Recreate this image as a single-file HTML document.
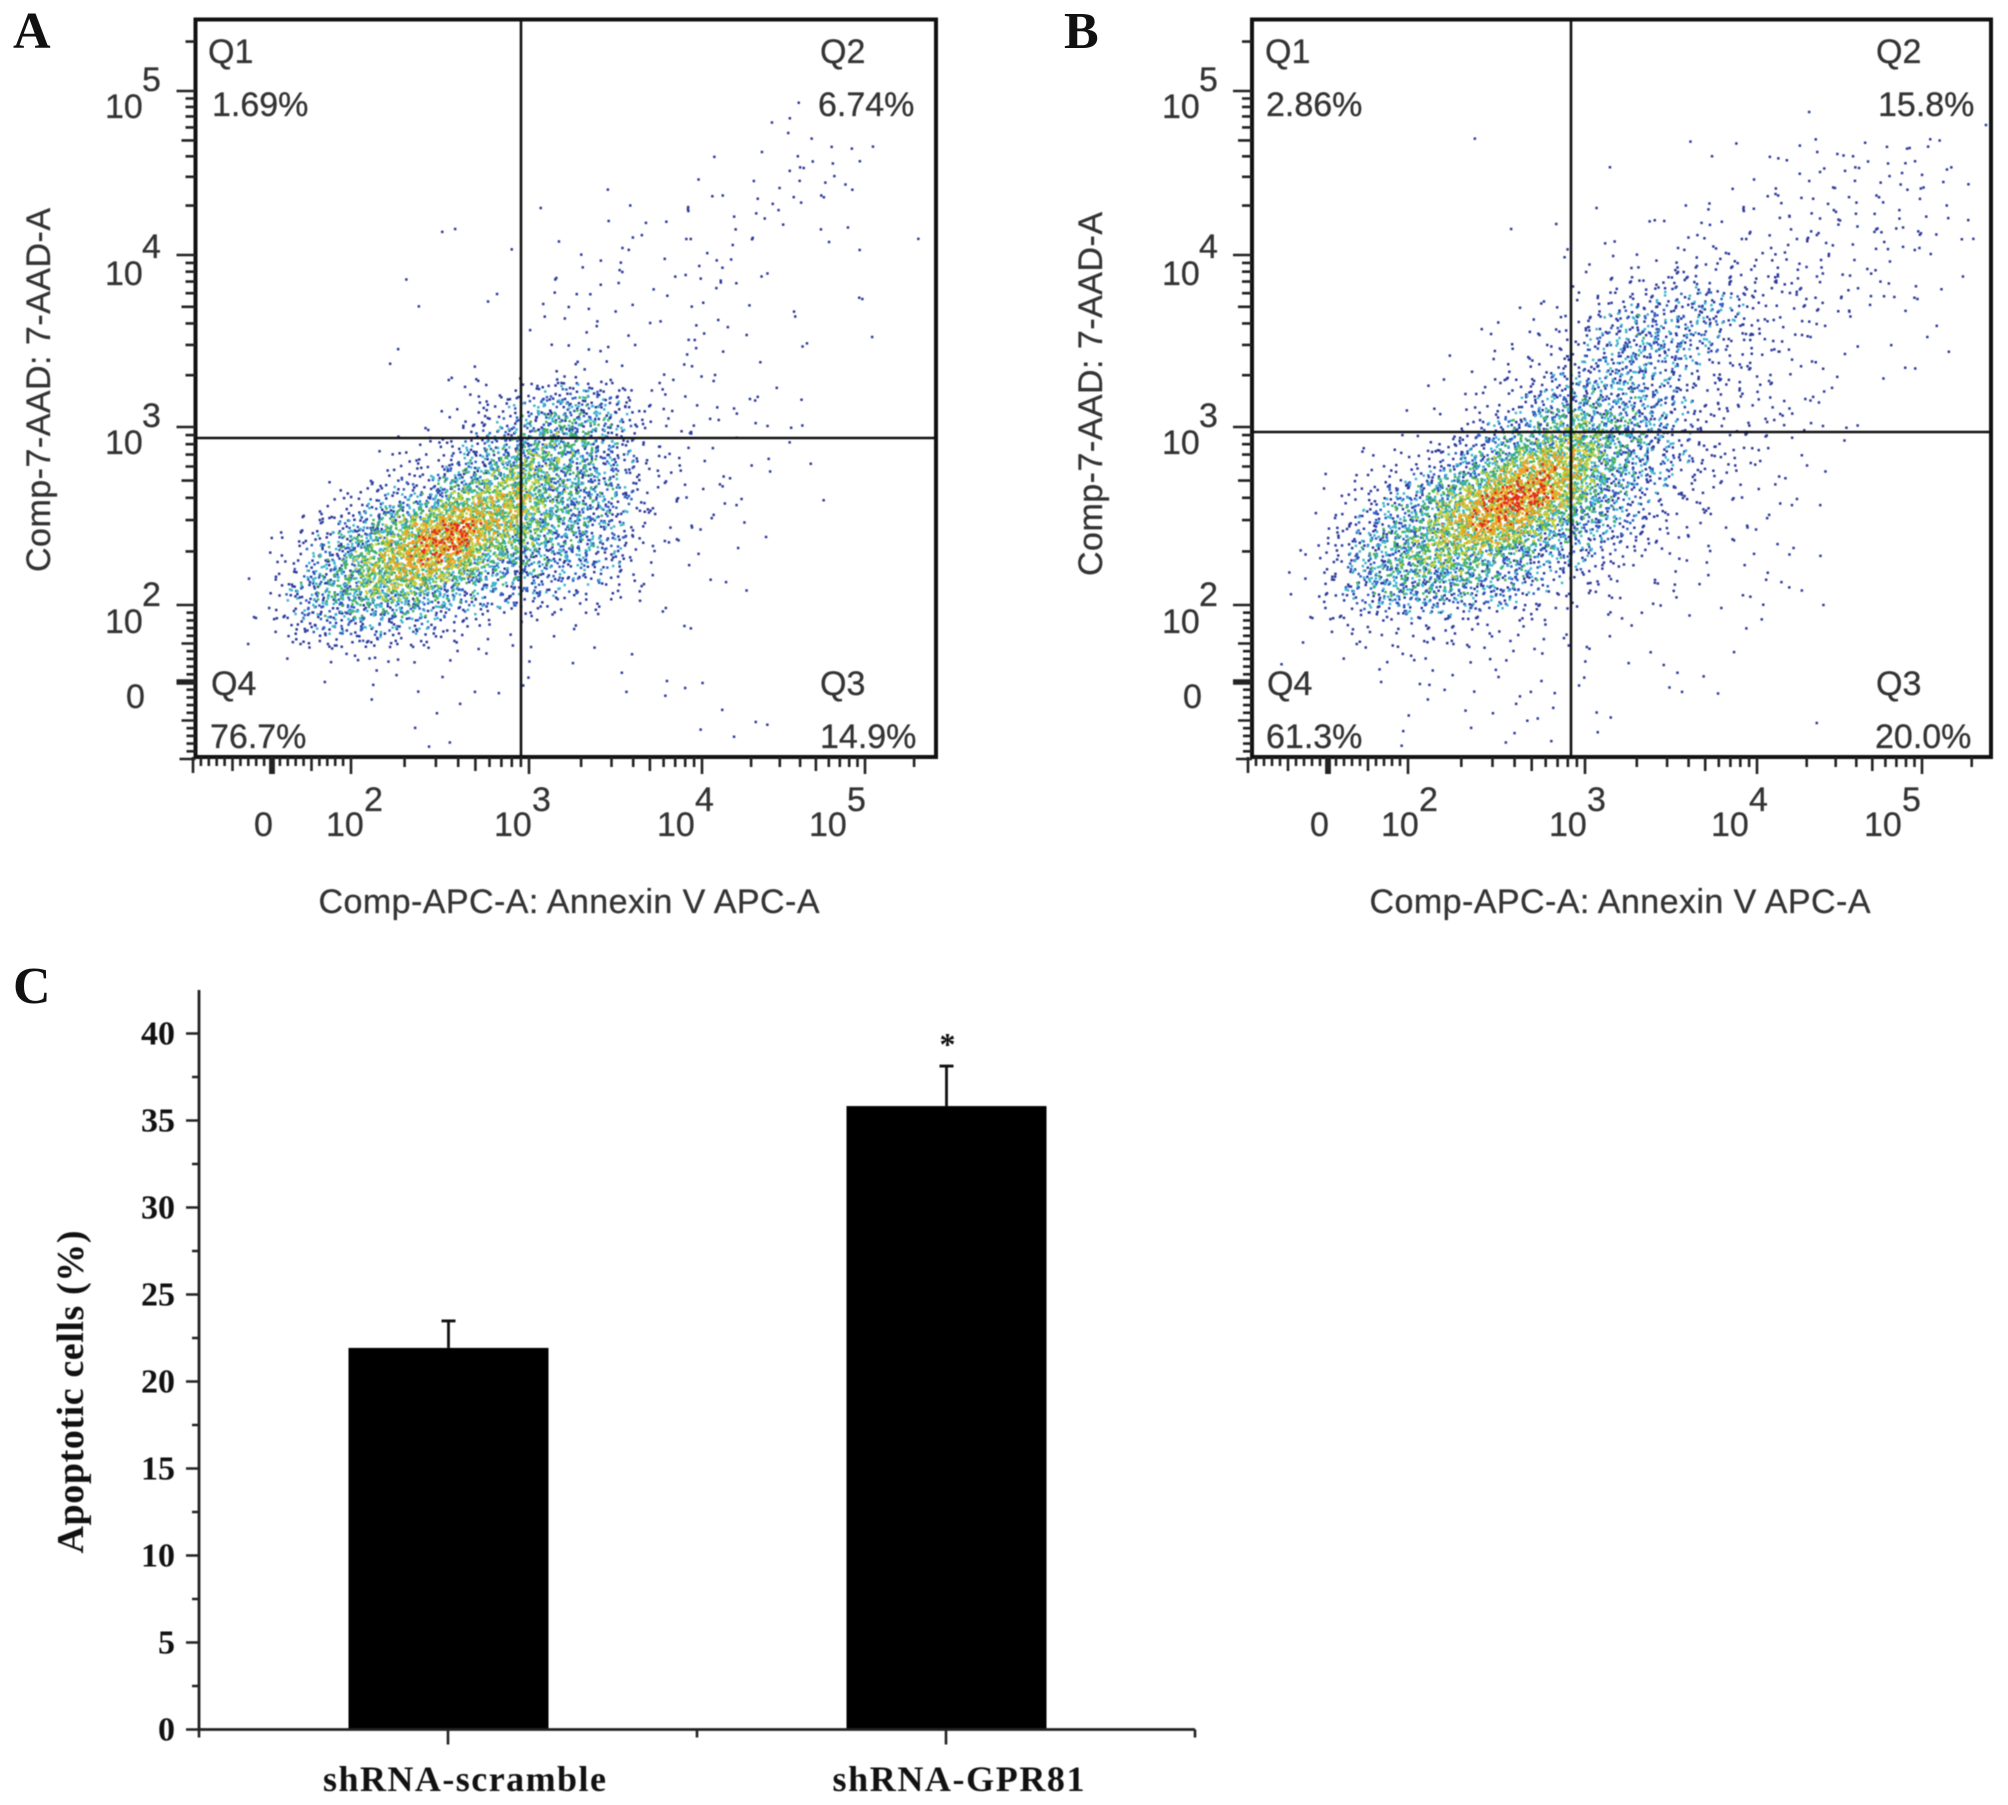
<!DOCTYPE html>
<html lang="en">
<head>
<meta charset="utf-8">
<title>Flow cytometry apoptosis figure</title>
<style>
html,body{margin:0;padding:0;background:#fff;}
body{width:2008px;height:1805px;overflow:hidden;}
svg{display:block;}
.flow{font-family:"Liberation Sans",sans-serif;fill:#333;}
.flow text{stroke:#333;stroke-width:.3px;}
.serif{font-family:"Liberation Serif",serif;font-weight:700;fill:#111;}
.soft{filter:blur(0.6px);}
</style>
</head>
<body>
<svg id="figure" width="2008" height="1805" viewBox="0 0 2008 1805" xmlns="http://www.w3.org/2000/svg">
  <rect width="2008" height="1805" fill="#fff"/>
  <defs>
    <clipPath id="clip-a"><rect x="197" y="21" width="737" height="734"/></clipPath>
    <clipPath id="clip-b"><rect x="1254" y="21" width="735" height="734"/></clipPath>
  </defs>
  <g id="panel-a" class="flow soft"></g>
  <g id="panel-b" class="flow soft"></g>
  <g id="panel-c" class="serif soft"></g>
  <text class="serif" x="13" y="48" font-size="52">A</text>
  <text class="serif" x="1064" y="48" font-size="52">B</text>
  <text class="serif" x="13" y="1003" font-size="52">C</text>
</svg>
<script>
// ---- Panel A: estimated event counts per grid cell, read by eye (rows top to bottom, columns left to right)
const densityA = [
[0,0,0,0,0,0, 0,0,0,0,0,0, 0,0,0,0,0,0, 0,0,0,0,0,0],
[0,0,0,0,0,0, 0,0,0,0,0,0, 0,0,0,0,0,0, 0,0,0,0,0,0],
[0,0,0,0,0,0, 0,0,0,0,0,0, 0,0,0,0,0,0, 0,1,0,0,0,0],
[0,0,0,0,0,0, 0,0,0,0,0,0, 0,0,0,0,0,0, 1,2,1,0,0,0],
[0,0,0,0,0,0, 0,0,0,0,0,0, 0,0,0,0,1,0, 1,2,4,3,0,0],
[0,0,0,0,0,0, 0,0,0,0,0,0, 0,1,0,0,1,2, 2,6,5,0,0,0],
[0,0,0,0,0,0, 0,1,0,0,0,1, 0,2,2,3,3,2, 2,1,3,0,0,1],
[0,0,0,0,0,0, 0,0,1,1,0,1, 2,3,2,2,3,3, 3,0,0,1,0,0],
[0,0,0,0,0,0, 1,0,0,1,0,2, 2,3,2,2,3,3, 1,0,0,1,0,0],
[0,0,0,0,0,0, 0,1,0,1,0,3, 3,2,1,2,4,3, 1,1,0,1,0,0],
[0,0,0,0,0,0, 2,0,0,0,0,2, 3,4,2,2,2,1, 0,1,0,0,1,0],
[0,0,0,0,0,0, 0,0,1,2,1,4, 5,2,2,3,4,2, 1,1,0,0,0,0],
[0,0,0,0,0,0, 0,0,6,12,18,36, 45,24,6,6,3,2, 2,1,1,0,0,0],
[0,0,0,0,0,0, 0,4,12,22,40,70, 60,30,9,7,3,3, 1,2,0,0,0,0],
[0,0,0,0,0,0, 8,14,25,50,85,75, 50,30,10,6,2,2, 2,0,1,0,0,0],
[0,0,0,0,3,12, 24,40,85,115,115,70, 55,30,10,7,3,3, 0,0,1,0,0,0],
[0,0,0,8,22,45, 90,135,170,125,100,60, 45,25,8,4,3,2, 2,0,0,0,0,0],
[0,0,2,18,42,90, 130,150,135,70,60,35, 35,20,6,2,2,0, 0,0,0,0,0,0],
[0,0,8,32,60,85, 100,75,45,30,28,20, 18,10,4,1,1,0, 1,0,0,0,0,0],
[0,0,5,20,36,36, 28,24,16,8,6,4, 2,1,0,2,0,0, 0,0,0,0,0,0],
[0,0,2,4,7,7, 7,4,3,1,2,0, 2,0,1,1,0,0, 0,0,0,0,0,0],
[0,0,0,0,1,2, 1,2,0,1,1,1, 0,1,1,2,1,0, 0,0,0,0,0,0],
[0,0,0,0,0,0, 0,2,1,1,0,0, 0,0,0,0,3,0, 1,0,0,0,0,0],
[0,0,0,0,0,0, 0,1,1,0,0,0, 0,0,0,1,0,2, 0,0,0,0,0,0]
];
// ---- Panel B: estimated event counts per grid cell, read by eye
const densityB = [
[0,0,0,0,0,0, 0,0,0,0,0,0, 0,0,0,0,0,0, 0,0,0,0,0,0],
[0,0,0,0,0,0, 0,0,0,0,0,0, 0,0,0,0,0,0, 0,0,0,0,0,0],
[0,0,0,0,0,0, 0,0,0,0,0,0, 0,0,0,0,0,0, 1,0,0,0,0,0],
[0,0,0,0,0,0, 0,1,0,0,0,0, 0,0,0,0,0,0, 0,0,0,1,0,1],
[0,0,0,0,0,0, 0,0,0,0,0,1, 0,0,2,1,1,3, 4,4,5,4,3,0],
[0,0,0,0,0,0, 0,0,0,0,0,0, 0,0,0,2,3,4, 4,6,5,5,3,0],
[0,0,0,0,0,0, 0,0,0,1,0,1, 0,3,4,3,3,6, 7,6,6,5,4,2],
[0,0,0,0,0,0, 0,0,1,1,0,3, 2,5,6,7,6,7, 6,5,4,3,2,0],
[0,0,0,0,0,0, 0,0,0,0,3,5, 8,14,18,16,13,12, 9,5,4,2,2,0],
[0,0,0,0,0,0, 0,0,2,3,8,16, 24,22,26,20,12,8, 8,4,2,1,0,0],
[0,0,0,0,0,0, 0,2,4,8,14,26, 36,30,22,14,10,6, 4,0,1,2,2,0],
[0,0,0,0,0,0, 1,3,8,14,22,30, 30,20,14,10,10,5, 3,1,1,1,0,0],
[0,0,0,0,0,2, 4,6,16,30,48,42, 35,22,14,11,8,5, 3,1,0,0,0,0],
[0,0,0,0,0,3, 8,20,40,70,100,65, 50,22,16,12,8,4, 3,1,0,0,0,0],
[0,0,0,3,6,14, 28,60,110,140,120,65, 35,20,14,8,4,2, 1,0,0,0,0,0],
[0,0,3,12,22,50, 90,140,170,150,90,50, 22,14,10,6,3,2, 1,0,0,0,0,0],
[0,0,6,20,45,75, 120,150,125,80,45,32, 16,10,5,3,4,2, 0,0,0,0,0,0],
[0,1,10,32,60,80, 90,70,50,32,22,14, 8,5,4,2,2,1, 1,0,0,0,0,0],
[0,2,14,28,45,50, 50,35,25,18,10,6, 2,3,2,2,2,2, 2,0,0,0,0,0],
[0,0,6,10,14,16, 14,9,8,5,2,2, 3,2,1,0,2,0, 0,0,0,0,0,0],
[0,2,1,2,4,5, 4,4,3,2,2,1, 1,2,0,1,1,0, 0,0,0,0,0,0],
[0,0,0,0,2,3, 2,3,3,1,1,1, 0,2,2,0,0,0, 0,0,0,0,0,0],
[0,0,0,0,1,0, 1,2,3,2,0,1, 0,0,0,1,0,1, 0,0,0,0,0,0],
[0,0,0,0,2,0, 2,0,2,2,0,2, 0,0,0,0,0,0, 0,0,0,0,0,0]
];
// ---- Flow axis data
const flowDecades = [2, 3, 4, 5];
const flowAxisValues = [0, 100, 1000, 10000, 100000];
const flowLinearTicks = [-90,-80,-70,-60,-50,-40,-30,-20,-10,10,20,30,40,50,60,70,80,90];
const flowLogMultiples = [2,3,4,5,6,7,8,9];
const quadrantNames = ['Q1','Q2','Q3','Q4'];
const quadrantValuesA = ['1.69%','6.74%','14.9%','76.7%'];
const quadrantValuesB = ['2.86%','15.8%','20.0%','61.3%'];
// ---- Panel C data
const barCategories = ['shRNA-scramble','shRNA-GPR81'];
const barValues = [21.93, 35.83];
const barErrors = [1.55, 2.3];
const barSignificance = ['', '*'];
const barTickValues = [0,5,10,15,20,25,30,35,40];
const barMinorTickValues = [2.5,7.5,12.5,17.5,22.5,27.5,32.5,37.5];

const NS = 'http://www.w3.org/2000/svg';
function mk(tag, attrs, parent){
  const n = document.createElementNS(NS, tag);
  for (const k in attrs) n.setAttribute(k, attrs[k]);
  parent.appendChild(n);
  return n;
}
function label(parent, txt, x, y, size, name){
  const t = mk('text', {x:x, y:y, 'font-size':size}, parent);
  t.textContent = txt;
  
  
  return t;
}
// radical-inverse sequence used only to spread a cell's count of dots inside the cell
function vdc(n, base){
  let v = 0, f = 1 / base;
  while (n > 0){ v += (n % base) * f; n = Math.floor(n / base); f /= base; }
  return v;
}

// Piecewise biexponential scale: linear from 0 to 100, log above, linear below 0.
function flowScale(anchors){
  return function(v){
    if (v <= 100) return anchors[0] + (anchors[1] - anchors[0]) * v / 100;
    const d = Math.log10(v) - 2;
    const i = Math.min(Math.floor(d), anchors.length - 3);
    return anchors[i + 1] + (anchors[i + 2] - anchors[i + 1]) * (d - i);
  };
}
const dotPalette = ['#2c3a9c','#2f5fc4','#3fb6cf','#46b35f','#c6cf3a','#f0a024','#e52c1c'];
const dotPaletteNames = ['navy','blue','cyan','green','yellow','orange','red'];

function drawFlow(cfg){
  const g = document.getElementById(cfg.id);
  const X = flowScale(cfg.xAnchors), Y = flowScale(cfg.yAnchors);
  const f = cfg.frame;
  // density dots
  const rows = cfg.density.length, cols = cfg.density[0].length;
  const cw = (f.r - f.l) / cols, ch = (f.b - f.t) / rows;
  const dotGroup = mk('g', {'clip-path':'url(#' + cfg.clip + ')'}, g);
  
  
  const paths = dotPalette.map(function(){ return []; });
  function densityAt(cx, cy){
    const x0 = Math.max(0, Math.min(cols - 1, Math.floor(cx - .5))), y0 = Math.max(0, Math.min(rows - 1, Math.floor(cy - .5)));
    const x1 = Math.min(cols - 1, x0 + 1), y1 = Math.min(rows - 1, y0 + 1);
    const tx = Math.max(0, Math.min(1, cx - .5 - x0)), ty = Math.max(0, Math.min(1, cy - .5 - y0));
    const d = cfg.density;
    return (d[y0][x0]*(1-tx)+d[y0][x1]*tx)*(1-ty) + (d[y1][x0]*(1-tx)+d[y1][x1]*tx)*ty;
  }
  const scale = cfg.countScale;
  cfg.density.forEach(function(row, r){
    row.forEach(function(count, c){
      const n = count >= 20 ? Math.round(count * scale) : count;
      const o = 1 + (r * 131 + c * 47) % 211, p = 1 + (r * 59 + c * 163) % 307;
      for (let k = 0; k < n; k++){
        // sub-cell placement: spread over neighbouring cells so grid edges do not show
        const cx = c + vdc(k + o, 2) + vdc(k + p, 5) - .5;
        const cy = r + vdc(k + p, 3) + vdc(k + o, 7) - .5;
        const dens = densityAt(cx, cy);
        const lvl = dens / 34 + (vdc(k + o + p, 11) - .5) * 3.6;
        const idx = dens < 16 ? 0 : Math.max(0, Math.min(6, Math.round(lvl)));
        const px = f.l + cx * cw, py = f.t + cy * ch;
        paths[idx].push('M' + px.toFixed(1) + ' ' + py.toFixed(1) + 'h2.5v2.5h-2.5z');
      }
    });
  });
  paths.forEach(function(list, i){
    if (!list.length) return;
    const p = mk('path', {d:list.join(''), fill:dotPalette[i]}, dotGroup);
    
    
  });
  // frame
  const frame = mk('rect', {x:f.l, y:f.t, width:f.r-f.l, height:f.b-f.t, fill:'none', stroke:'#111', 'stroke-width':4}, g);
  
  
  // gates
  const gv = mk('line', {x1:cfg.gateX, x2:cfg.gateX, y1:f.t, y2:f.b, stroke:'#111', 'stroke-width':2.6}, g);
  
  
  const gh = mk('line', {x1:f.l, x2:f.r, y1:cfg.gateY, y2:cfg.gateY, stroke:'#111', 'stroke-width':2.6}, g);
  
  
  // ticks
  const tx = [], ty = [];
  function addX(v, len){ const p = X(v); if (p <= f.r) tx.push('M' + p.toFixed(1) + ' ' + f.b + 'v' + len); }
  function addY(v, len){ const p = Y(v); if (p >= f.t) ty.push('M' + f.l + ' ' + p.toFixed(1) + 'h-' + len); }
  flowLinearTicks.forEach(function(v){ const len = v % 50 === 0 ? 14 : 9; addX(v, len); addY(v, len); });
  addX(-100, 16);
  addY(-100, 16);
  [-2,0,2].forEach(function(v){ addX(v, 17); addY(v, 19); });
  flowDecades.forEach(function(d){
    addX(Math.pow(10, d), 17);
    addY(Math.pow(10, d), 19);
    flowLogMultiples.forEach(function(m){
      const v = m * Math.pow(10, d), len = m === 5 ? 14 : 10;
      addX(v, len);
      addY(v, len);
    });
  });
  const xt = mk('path', {d:tx.join(''), stroke:'#222', 'stroke-width':2.6, fill:'none'}, g);
  
  
  const yt = mk('path', {d:ty.join(''), stroke:'#222', 'stroke-width':2.6, fill:'none'}, g);
  
  
  // tick labels
  const fs = 34;
  flowAxisValues.forEach(function(v, i){
    if (v === 0){
      label(g, '0', cfg.xLabelX[0], 836, fs, 'x-tick-label-0');
      label(g, '0', cfg.yLabelX + 20, 708, fs, 'y-tick-label-0');
      return;
    }
    const e = String(Math.round(Math.log10(v)));
    label(g, '10', cfg.xLabelX[i] - 1, 836, fs, 'x-tick-label-10e' + e);
    label(g, e, cfg.xLabelX[i] + 37, 811, fs, 'x-tick-exponent-' + e);
    label(g, '10', cfg.yLabelX - 1, cfg.yLabelBase[i], fs, 'y-tick-label-10e' + e);
    label(g, e, cfg.yLabelX + 36, cfg.yLabelBase[i] - 27, fs, 'y-tick-exponent-' + e);
  });
  // quadrant text
  quadrantNames.forEach(function(q, i){
    label(g, q, cfg.qNameX[i], i < 2 ? 63 : 695, fs, 'quadrant-name-' + q.toLowerCase());
    label(g, cfg.quadValues[i], cfg.qValX[i], i < 2 ? 116 : 748, fs, 'quadrant-percent-' + q.toLowerCase());
  });
  // axis titles
  const xT = label(g, 'Comp-APC-A: Annexin V APC-A', cfg.xTitleX, 913, 34, 'x-axis-title');
  xT.setAttribute('text-anchor', 'middle');
  xT.setAttribute('textLength', 501);
  const yT = label(g, 'Comp-7-AAD: 7-AAD-A', 0, 0, 34, 'y-axis-title');
  yT.setAttribute('text-anchor', 'middle');
  yT.setAttribute('textLength', 364);
  yT.setAttribute('transform', 'translate(' + cfg.yTitleX + ' ' + cfg.yTitleY + ') rotate(-90)');
}

drawFlow({
  id:'panel-a', clip:'clip-a', density:densityA, quadValues:quadrantValuesA, countScale:1.7,
  frame:{l:195.5, r:936, t:19.5, b:757},
  xAnchors:[272,351,529,702,865], yAnchors:[682,605,427,255,91],
  gateX:521, gateY:438,
  xLabelX:[254,327,495,658,810], yLabelX:106, yLabelBase:[708,633,454,285,118],
  qNameX:[208,820,820,211], qValX:[212,818,820,210],
  xTitleX:569, yTitleX:50, yTitleY:390
});
drawFlow({
  id:'panel-b', clip:'clip-b', density:densityB, quadValues:quadrantValuesB, countScale:1.7,
  frame:{l:1252, r:1991, t:19.5, b:757},
  xAnchors:[1328,1408,1585,1757,1922], yAnchors:[682,605,427,255,91],
  gateX:1571, gateY:432,
  xLabelX:[1310,1382,1550,1712,1865], yLabelX:1163, yLabelBase:[708,633,454,285,118],
  qNameX:[1265,1876,1876,1267], qValX:[1266,1878,1875,1266],
  xTitleX:1620, yTitleX:1102, yTitleY:394
});

// ---- Panel C
(function(){
  const g = document.getElementById('panel-c');
  const axisLeft = 199, axisRight = 1195, axisBase = 1729.5, axisTop = 990;
  const yC = function(v){ return axisBase - v * 17.4; };
  const band = (axisRight - axisLeft) / barCategories.length;
  const xC = function(i){ return axisLeft + band * (i + .5) + .5; };
  const barW = 200;
  barValues.forEach(function(v, i){
    const b = mk('rect', {x:xC(i) - barW/2, y:yC(v), width:barW, height:axisBase - yC(v), fill:'#000'}, g);
    
    
    const top = yC(v + barErrors[i]);
    const e = mk('path', {d:'M' + xC(i) + ' ' + yC(v) + 'V' + top + 'm-7 0h14', stroke:'#111', 'stroke-width':2.8, fill:'none'}, g);
    
    
    if (barSignificance[i]){
      const s = label(g, barSignificance[i], xC(i) + 1, top - 11, 32, 'significance-star');
      s.setAttribute('text-anchor', 'middle');
    }
    const t = label(g, barCategories[i], xC(i) + (i ? 12 : 16), 1791, 36, 'x-category-label-' + i);
    t.setAttribute('text-anchor', 'middle');
    t.setAttribute('textLength', i ? 252 : 283);
  });
  const ax = mk('path', {d:'M' + axisLeft + ' ' + axisTop + 'V' + axisBase + 'H' + axisRight, stroke:'#222', 'stroke-width':2.8, fill:'none'}, g);
  
  
  let d = '';
  barTickValues.forEach(function(v){
    d += 'M' + axisLeft + ' ' + yC(v) + 'h-13';
    const t = label(g, String(v), 175, yC(v) + 11, 34, 'y-tick-label-' + v);
    t.setAttribute('text-anchor', 'end');
  });
  barMinorTickValues.forEach(function(v){ d += 'M' + axisLeft + ' ' + yC(v) + 'h-7'; });
  for (let i = 0; i <= barCategories.length * 2; i++){
    const px = axisLeft + band * i / 2;
    d += 'M' + px + ' ' + axisBase + 'v' + (i % 2 ? 15 : 8);
  }
  const tk = mk('path', {d:d, stroke:'#222', 'stroke-width':2.6, fill:'none'}, g);
  
  
  const yt = label(g, 'Apoptotic cells (%)', 0, 0, 38, 'y-axis-title-apoptotic');
  yt.setAttribute('text-anchor', 'middle');
  yt.setAttribute('textLength', 323);
  yt.setAttribute('transform', 'translate(83 1392) rotate(-90)');
})();
</script>
</body>
</html>
